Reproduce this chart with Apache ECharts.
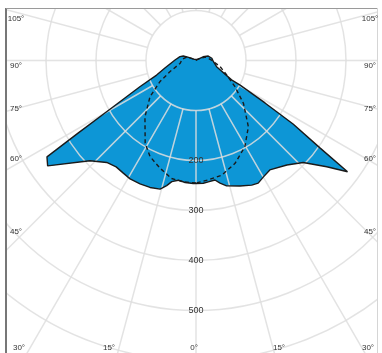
<!DOCTYPE html>
<html><head><meta charset="utf-8">
<script src="https://cdn.jsdelivr.net/npm/echarts@6/dist/echarts.min.js"></script>
<style>html,body{margin:0;padding:0;background:#fff}#c{width:382px;height:353px}</style>
</head><body><div id="c"></div>
<script>
// C0 plane (filled, left half): angle from nadir (deg) and intensity
const c0Angles = [0, 1.3, 5.1, 8.4, 11.3, 13.2, 15.6, 19.9, 24.4, 29.1, 33.0, 36.9, 41.2, 46.6, 54.6, 57.1, 58.4, 60.2, 64.9, 69.7, 76.4, 91.4, 103.4, 109.5, 113, 125, 180];
const c0Values = [246, 246, 245, 242, 247, 257, 267, 270, 271, 271, 268, 266, 271, 292, 364, 355, 277, 206, 124, 84, 64, 42, 33, 27, 16, 4, 0];
// C180 plane (filled, right half)
const c180Angles = [0, 3.4, 5.8, 9.0, 11.1, 13.7, 19.3, 24.1, 26.9, 30.1, 34.0, 41.0, 46.4, 50.9, 53.7, 54.8, 56.8, 58.4, 60.9, 61.4, 73.3, 86, 98, 110, 117.5, 125, 180];
const c180Values = [246, 246, 244, 242, 250, 258, 266, 273, 275, 269, 264, 277, 296, 337, 376, 304, 232, 162, 101, 81, 43, 35, 32, 26, 16, 4, 0];
// C90 plane (dashed, left half)
const c90Angles = [0, 6.0, 11.7, 18.5, 25.6, 31.6, 42.2, 51.8, 59.5, 66.7, 80, 95, 110, 125, 180];
const c90Values = [245, 244, 241, 227, 213, 194, 152, 117, 84, 57, 32, 28, 20, 5, 0];
// C270 plane (dashed, right half)
const c270Angles = [0, 5.9, 12.7, 20.8, 29.6, 38.3, 47.9, 56.1, 64.7, 75.5, 91.8, 110, 125, 180];
const c270Values = [245, 240, 235, 220, 198, 169, 128, 94, 68, 50, 31, 20, 5, 0];

const ringLabels = [200, 300, 400, 500];
const sideAngleLabels = ['105°', '90°', '75°', '60°', '45°'];
const bottomAngleLabels = ['30°', '15°', '0°', '15°', '30°'];
const titleText = 'WBC';

// layout (positions of frame labels)
const sideLabelY = [19, 66, 109, 159, 232];
const bottomLabelX = [19, 109, 194, 279, 368];

function loop(la, lv, ra, rv) {
  const pts = [];
  for (let i = 0; i < la.length; i++) pts.push([lv[i], la[i]]);
  for (let i = ra.length - 1; i >= 0; i--) pts.push([rv[i], 360 - ra[i]]);
  return pts;
}
const fillData = loop(c0Angles, c0Values, c180Angles, c180Values);
const dashData = loop(c90Angles, c90Values, c270Angles, c270Values);

const gridColor = 'rgba(222,222,222,0.85)';
const center = [196, 60.5];
const labelFont = '8px "Liberation Sans"';

const graphic = [
  {type: 'rect', shape: {x: 0, y: 0, width: 6, height: 353}, style: {fill: '#fff'}, z: 100},
  {type: 'rect', shape: {x: 0, y: 0, width: 382, height: 8}, style: {fill: '#fff'}, z: 100},
  {type: 'rect', shape: {x: 378, y: 0, width: 4, height: 353}, style: {fill: '#fff'}, z: 100},
  {type: 'line', shape: {x1: 6, y1: 8, x2: 6, y2: 353}, style: {stroke: '#777', lineWidth: 2}, z: 101},
  {type: 'line', shape: {x1: 6, y1: 8.5, x2: 378, y2: 8.5}, style: {stroke: '#9a9a9a', lineWidth: 1}, z: 101},
  {type: 'line', shape: {x1: 377.5, y1: 8, x2: 377.5, y2: 353}, style: {stroke: '#d5d5d5', lineWidth: 1}, z: 101},
  {type: 'text', x: 318, y: 4.5, z: 101, style: {text: titleText, font: '20px "Liberation Sans"', fill: '#777', align: 'left', textAlign: 'left', verticalAlign: 'bottom', textVerticalAlign: 'bottom'}}
];
sideAngleLabels.forEach((t, i) => {
  [16, 370].forEach(x => graphic.push({type: 'text', x: x, y: sideLabelY[i], z: 101,
    style: {text: t, font: labelFont, fill: '#333', align: 'center', textAlign: 'center', verticalAlign: 'middle', textVerticalAlign: 'middle'}}));
});
bottomAngleLabels.forEach((t, i) => {
  graphic.push({type: 'text', x: bottomLabelX[i], y: 348, z: 101,
    style: {text: t, font: labelFont, fill: '#333', align: 'center', textAlign: 'center', verticalAlign: 'middle', textVerticalAlign: 'middle'}});
});

const chart = echarts.init(document.getElementById('c'), null, {renderer: 'canvas'});
chart.setOption({
  animation: false,
  backgroundColor: '#fff',
  polar: [{center: center, radius: [0, 350]}, {center: center, radius: [50, 350]}],
  angleAxis: [
    {polarIndex: 0, type: 'value', min: 0, max: 360, startAngle: 270, clockwise: true, show: false},
    {polarIndex: 1, type: 'value', min: 0, max: 360, interval: 15, startAngle: 270, clockwise: true, z: 2,
      axisLine: {show: false}, axisTick: {show: false}, axisLabel: {show: false},
      splitLine: {show: true, lineStyle: {color: gridColor, width: 1.5}}}
  ],
  radiusAxis: [
    {polarIndex: 0, type: 'value', min: 0, max: 700, interval: 100, z: 2,
      axisLine: {show: false}, axisTick: {show: false},
      axisLabel: {show: true, margin: 0, rotate: 0, align: 'center', verticalAlign: 'middle', fontSize: 9,
        fontFamily: 'Liberation Sans', color: '#333',
        formatter: v => ringLabels.includes(v) ? String(v) : ''},
      splitLine: {show: true, lineStyle: {color: gridColor, width: 1.5}}},
    {polarIndex: 1, type: 'value', min: 0, max: 1, show: false}
  ],
  series: [
    {type: 'line', coordinateSystem: 'polar', polarIndex: 0, data: fillData, symbol: 'none', z: 1,
      lineStyle: {width: 0, opacity: 0}, areaStyle: {color: '#0d96d6', opacity: 1}, silent: true},
    {type: 'line', coordinateSystem: 'polar', polarIndex: 0, data: fillData, symbol: 'none', z: 5,
      lineStyle: {color: '#1a1a1a', width: 1.4}, silent: true},
    {type: 'line', coordinateSystem: 'polar', polarIndex: 0, data: dashData, symbol: 'none', z: 5,
      lineStyle: {color: '#1a1a1a', width: 1.4, type: [4, 3]}, silent: true}
  ],
  graphic: graphic
});
</script></body></html>
